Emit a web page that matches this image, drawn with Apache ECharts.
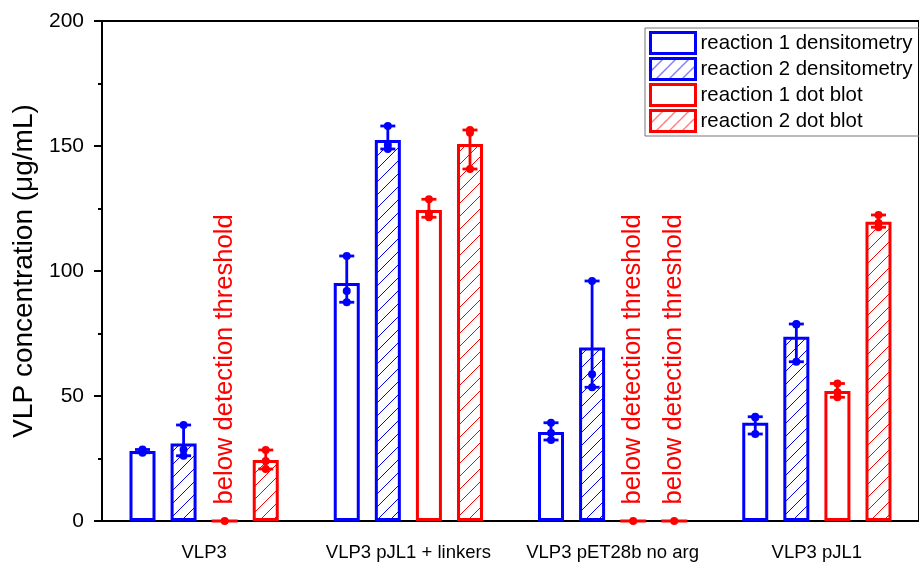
<!DOCTYPE html>
<html>
<head>
<meta charset="utf-8">
<script src="https://cdn.jsdelivr.net/npm/echarts@6/dist/echarts.min.js"></script>
<style>
  html, body { margin: 0; padding: 0; background: #fff; }
  #chart { width: 919px; height: 565px; }
</style>
</head>
<body>
<div id="chart"></div>
<script>
// VLP 浓度柱状图：两次反应，两种检测方法
const categories = ['VLP3', 'VLP3 pJL1 + linkers', 'VLP3 pET28b no arg', 'VLP3 pJL1'];
const seriesNames = ['reaction 1 densitometry', 'reaction 2 densitometry', 'reaction 1 dot blot', 'reaction 2 dot blot'];

// 柱高（均值）
const r1Dens = [28, 95.2, 35.6, 39.3];
const r2Dens = [31, 152.4, 69.4, 73.7];
const r1Dot = [0, 124.4, 0, 52];
const r2Dot = [24.4, 150.8, 0, 119.7];

// 单次测量点（误差线取其最小值到最大值）
const r1DensPts = [[28.6, 28, 27.3], [106, 92, 87.5], [39.3, 35.2, 32.4], [41.7, 41.4, 34.8]];
const r2DensPts = [[38.4, 28.5, 26.1], [158, 150.4, 148.8], [96, 58.7, 53.5], [78.8, 78.6, 63.7]];
const r1DotPts = [[0], [128.7, 123, 121.5], [0], [55, 51.5, 49.5]];
const r2DotPts = [[28.4, 24, 20.8], [156.4, 155.3, 140.8], [0], [122.4, 119.2, 117.5]];

// 低于检测限的标记
const r1DotBelow = [true, false, true, false];
const r2DotBelow = [false, false, true, false];

const yTicks = [0, 50, 100, 150, 200];

const FONT = 'Liberation Sans, Arial, sans-serif';
const BLUE = '#0000ff';
const RED = '#ff0000';
const BAR_W = 26;
const BAR_GAP = 0.58;
const slot = BAR_W * (1 + BAR_GAP);

// 斜线填充图案
function hatch(color) {
    const s = 13;
    const c = document.createElement('canvas');
    c.width = s; c.height = s;
    const ctx = c.getContext('2d');
    ctx.fillStyle = '#fff';
    ctx.fillRect(0, 0, s, s);
    ctx.strokeStyle = color;
    ctx.lineWidth = 1;
    ctx.beginPath();
    ctx.moveTo(-1, s + 1); ctx.lineTo(s + 1, -1);
    ctx.moveTo(-1, 1); ctx.lineTo(1, -1);
    ctx.moveTo(s - 1, s + 1); ctx.lineTo(s + 1, s - 1);
    ctx.stroke();
    return { image: c, repeat: 'repeat' };
}

const bars = [
    { name: seriesNames[0], values: r1Dens, pts: r1DensPts, below: null, color: BLUE, hatched: false },
    { name: seriesNames[1], values: r2Dens, pts: r2DensPts, below: null, color: BLUE, hatched: true },
    { name: seriesNames[2], values: r1Dot, pts: r1DotPts, below: r1DotBelow, color: RED, hatched: false },
    { name: seriesNames[3], values: r2Dot, pts: r2DotPts, below: r2DotBelow, color: RED, hatched: true }
];

const belowLabel = {
    show: true,
    formatter: 'below detection threshold',
    position: 'top',
    distance: 15,
    rotate: 90,
    align: 'left',
    verticalAlign: 'middle',
    color: RED,
    fontSize: 25.6,
    fontFamily: FONT
};

const series = [];
bars.forEach((b, k) => {
    series.push({
        name: b.name,
        type: 'bar',
        barWidth: BAR_W,
        barGap: (BAR_GAP * 100) + '%',
        itemStyle: {
            color: b.hatched ? hatch(b.color) : '#fff',
            borderColor: b.color,
            borderWidth: 3
        },
        emphasis: { disabled: true },
        data: b.values.map((v, i) => (b.below && b.below[i]) ? { value: v, label: belowLabel } : v)
    });
});

// 误差线和数据点
bars.forEach((b, k) => {
    series.push({
        name: 'err' + k,
        type: 'custom',
        z: 5,
        data: categories.map((c, i) => [i, 0]),
        renderItem: function (params, api) {
            const i = api.value(0);
            const pts = b.pts[i];
            const x = api.coord([i, 0])[0] + (k - 1.5) * slot;
            const lo = Math.min(...pts);
            const hi = Math.max(...pts);
            const yLo = api.coord([i, lo])[1];
            const yHi = api.coord([i, hi])[1];
            const lineStyle = { stroke: b.color, lineWidth: 2.8 };
            const children = [];
            if (hi > lo) {
                children.push({ type: 'line', shape: { x1: x, y1: yLo, x2: x, y2: yHi }, style: lineStyle });
                children.push({ type: 'line', shape: { x1: x - 7.5, y1: yLo, x2: x + 7.5, y2: yLo }, style: lineStyle });
                children.push({ type: 'line', shape: { x1: x - 7.5, y1: yHi, x2: x + 7.5, y2: yHi }, style: lineStyle });
            }
            pts.forEach(p => {
                children.push({
                    type: 'circle',
                    shape: { cx: x, cy: api.coord([i, p])[1], r: 4 },
                    style: { fill: b.color }
                });
            });
            return { type: 'group', children: children };
        }
    });
});

const chart = echarts.init(document.getElementById('chart'));
chart.setOption({
    animation: false,
    grid: {
        left: 102,
        right: -6,
        top: 21,
        bottom: 44,
        show: true,
        borderColor: '#000',
        borderWidth: 2,
        backgroundColor: 'transparent'
    },
    legend: {
        data: seriesNames,
        orient: 'vertical',
        left: 645,
        top: 28,
        icon: 'rect',
        itemWidth: 45,
        itemHeight: 21,
        itemGap: 2,
        padding: [3, 30, 3, 4],
        borderColor: '#777',
        borderWidth: 1,
        itemStyle: { borderWidth: 3 },
        selectedMode: false,
        textStyle: { fontSize: 20.4, lineHeight: 22, fontFamily: FONT, color: '#000' }
    },
    xAxis: {
        type: 'category',
        data: categories,
        axisLine: { lineStyle: { color: '#000', width: 2 } },
        axisTick: { alignWithLabel: true, length: 9, lineStyle: { color: '#000', width: 2 } },
        axisLabel: { interval: 0, color: '#000', fontSize: 18.5, fontFamily: FONT, margin: 22 }
    },
    yAxis: {
        type: 'value',
        min: yTicks[0],
        max: yTicks[yTicks.length - 1],
        interval: yTicks[1] - yTicks[0],
        name: 'VLP concentration (\u03bcg/mL)',
        nameLocation: 'middle',
        nameGap: 58,
        nameTextStyle: { fontSize: 28, fontFamily: FONT, color: '#000' },
        axisLine: { show: true, lineStyle: { color: '#000', width: 2 } },
        axisTick: { show: true, length: 8, lineStyle: { color: '#000', width: 2 } },
        minorTick: { show: true, splitNumber: 2, length: 4, lineStyle: { color: '#000', width: 2 } },
        splitLine: { show: false },
        axisLabel: { color: '#000', fontSize: 21, fontFamily: FONT, margin: 18 }
    },
    series: series
});
</script>
</body>
</html>
